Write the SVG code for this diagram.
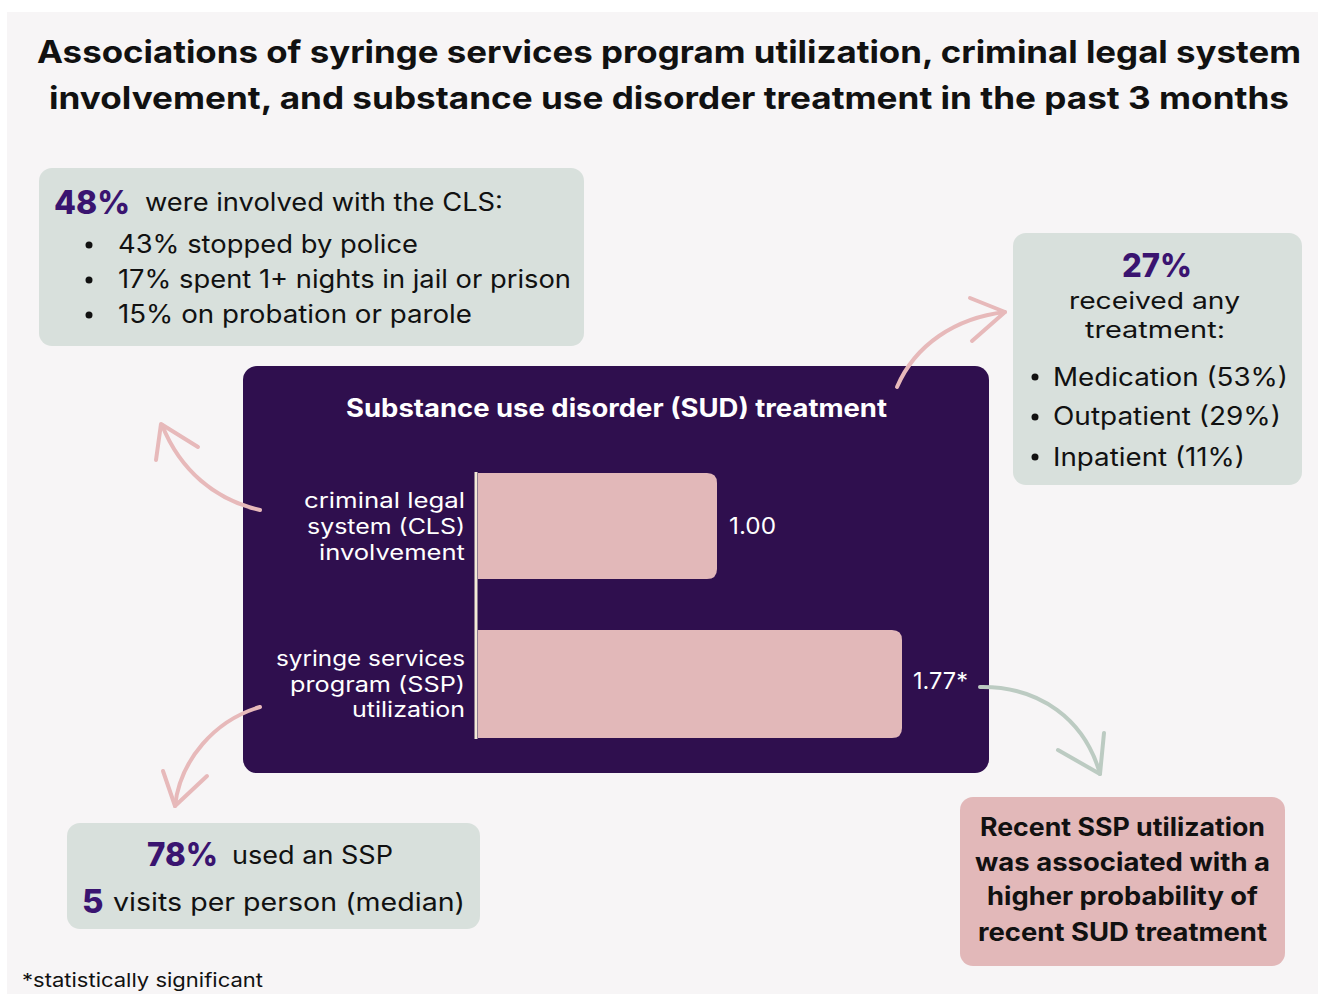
<svg xmlns="http://www.w3.org/2000/svg" width="1318" height="994" viewBox="0 0 1318 994">
<style>
text{font-family:Inter,"Open Sans","DejaVu Sans",sans-serif;fill:#111}
.t{font-weight:700;font-size:31px}
.b{font-size:25px}
.bb{font-weight:700;font-size:25px}
.p{font-weight:800;fill:#3a1470;font-size:33px}
.w{fill:#fff}
.lbl{font-size:21px;fill:#fff}
.card{fill:#d8e0dc}
.bar{fill:#e2b8b9}
.ap{fill:none;stroke:#e7b9ba;stroke-width:4;stroke-linecap:round;stroke-linejoin:round}
.ag{fill:none;stroke:#bccbc2;stroke-width:4;stroke-linecap:round;stroke-linejoin:round}
</style>
<rect x="0" y="0" width="1318" height="994" fill="#ffffff"/>
<rect x="7" y="12" width="1311" height="982" fill="#f7f5f6"/>
<g id="title">
<text class="t" x="669" y="63" text-anchor="middle" textLength="1264" lengthAdjust="spacingAndGlyphs">Associations of syringe services program utilization, criminal legal system</text>
<text class="t" x="669" y="109" text-anchor="middle" textLength="1240" lengthAdjust="spacingAndGlyphs">involvement, and substance use disorder treatment in the past 3 months</text>
</g>
<g id="cls-box">
<rect class="card" x="39" y="168" width="545" height="178" rx="13"/>
<text class="p" x="54" y="214" textLength="76" lengthAdjust="spacingAndGlyphs">48%</text>
<text class="b" x="145" y="211" textLength="358" lengthAdjust="spacingAndGlyphs">were involved with the CLS:</text>
<circle cx="89" cy="245" r="3.5" fill="#111"/>
<circle cx="89" cy="280" r="3.5" fill="#111"/>
<circle cx="89" cy="315" r="3.5" fill="#111"/>
<text class="b" x="118" y="253" textLength="300" lengthAdjust="spacingAndGlyphs">43% stopped by police</text>
<text class="b" x="118" y="288" textLength="453" lengthAdjust="spacingAndGlyphs">17% spent 1+ nights in jail or prison</text>
<text class="b" x="118" y="323" textLength="354" lengthAdjust="spacingAndGlyphs">15% on probation or parole</text>
</g>
<g id="treatment-box">
<rect class="card" x="1013" y="233" width="289" height="252" rx="13"/>
<text class="p" x="1122" y="277" textLength="70" lengthAdjust="spacingAndGlyphs">27%</text>
<text x="1069" y="309" font-size="23.5" textLength="171" lengthAdjust="spacingAndGlyphs">received any</text>
<text x="1085" y="338" font-size="23.5" textLength="140" lengthAdjust="spacingAndGlyphs">treatment:</text>
<circle cx="1035" cy="377" r="3.5" fill="#111"/>
<circle cx="1035" cy="417" r="3.5" fill="#111"/>
<circle cx="1035" cy="457" r="3.5" fill="#111"/>
<text class="b" x="1053" y="386" textLength="235" lengthAdjust="spacingAndGlyphs">Medication (53%)</text>
<text class="b" x="1053" y="425" textLength="228" lengthAdjust="spacingAndGlyphs">Outpatient (29%)</text>
<text class="b" x="1053" y="466" textLength="192" lengthAdjust="spacingAndGlyphs">Inpatient (11%)</text>
</g>
<g id="chart">
<rect x="243" y="366" width="746" height="407" rx="14" fill="#2f0f4e"/>
<text class="bb w" x="346" y="417" font-size="24" textLength="541" lengthAdjust="spacingAndGlyphs">Substance use disorder (SUD) treatment</text>
<path class="bar" d="M478 473 H707 Q717 473 717 483 V569 Q717 579 707 579 H478 Z"/>
<path class="bar" d="M478 630 H892 Q902 630 902 640 V728 Q902 738 892 738 H478 Z"/>
<line x1="476" y1="472" x2="476" y2="739" stroke="#f3ead6" stroke-width="3"/>
<text class="w" x="729" y="534" font-size="23" textLength="47" lengthAdjust="spacingAndGlyphs">1.00</text>
<text class="w" x="913" y="689" font-size="23" textLength="55" lengthAdjust="spacingAndGlyphs">1.77*</text>
<text class="lbl" x="304" y="508" textLength="161" lengthAdjust="spacingAndGlyphs">criminal legal</text>
<text class="lbl" x="307" y="534" textLength="158" lengthAdjust="spacingAndGlyphs">system (CLS)</text>
<text class="lbl" x="319" y="560" textLength="146" lengthAdjust="spacingAndGlyphs">involvement</text>
<text class="lbl" x="276" y="666" textLength="189" lengthAdjust="spacingAndGlyphs">syringe services</text>
<text class="lbl" x="290" y="692" textLength="175" lengthAdjust="spacingAndGlyphs">program (SSP)</text>
<text class="lbl" x="352" y="717" textLength="113" lengthAdjust="spacingAndGlyphs">utilization</text>
</g>
<g id="ssp-box">
<rect class="card" x="67" y="823" width="413" height="106" rx="13"/>
<text class="p" x="147" y="866" textLength="71" lengthAdjust="spacingAndGlyphs">78%</text>
<text class="b" x="232" y="864" textLength="161" lengthAdjust="spacingAndGlyphs">used an SSP</text>
<text class="p" x="82" y="913">5</text>
<text class="b" x="113" y="911" textLength="352" lengthAdjust="spacingAndGlyphs">visits per person (median)</text>
</g>
<g id="result-box">
<rect x="960" y="797" width="325" height="169" rx="13" fill="#e2b8b9"/>
<text class="bb" x="980" y="836" textLength="285" lengthAdjust="spacingAndGlyphs">Recent SSP utilization</text>
<text class="bb" x="975" y="871" textLength="295" lengthAdjust="spacingAndGlyphs">was associated with a</text>
<text class="bb" x="987" y="905" textLength="271" lengthAdjust="spacingAndGlyphs">higher probability of</text>
<text class="bb" x="978" y="941" textLength="289" lengthAdjust="spacingAndGlyphs">recent SUD treatment</text>
</g>
<g id="connectors">
<path class="ap" d="M260 510 C215 500 180 470 162 425"/>
<path class="ap" d="M156 460 L161 424 L198 447"/>
<path class="ap" d="M897 387 C915 345 955 318 1005 312"/>
<path class="ap" d="M970 298 L1005 312 L972 341"/>
<path class="ap" d="M260 707 C215 720 180 760 175 806"/>
<path class="ap" d="M163 771 L175 806 L207 776"/>
<path class="ag" d="M980 687 C1040 686 1085 720 1100 774"/>
<path class="ag" d="M1104 733 L1100 774 L1058 750"/>
</g>
<text x="22" y="987" font-size="19" textLength="241" lengthAdjust="spacingAndGlyphs">*statistically significant</text>
</svg>
